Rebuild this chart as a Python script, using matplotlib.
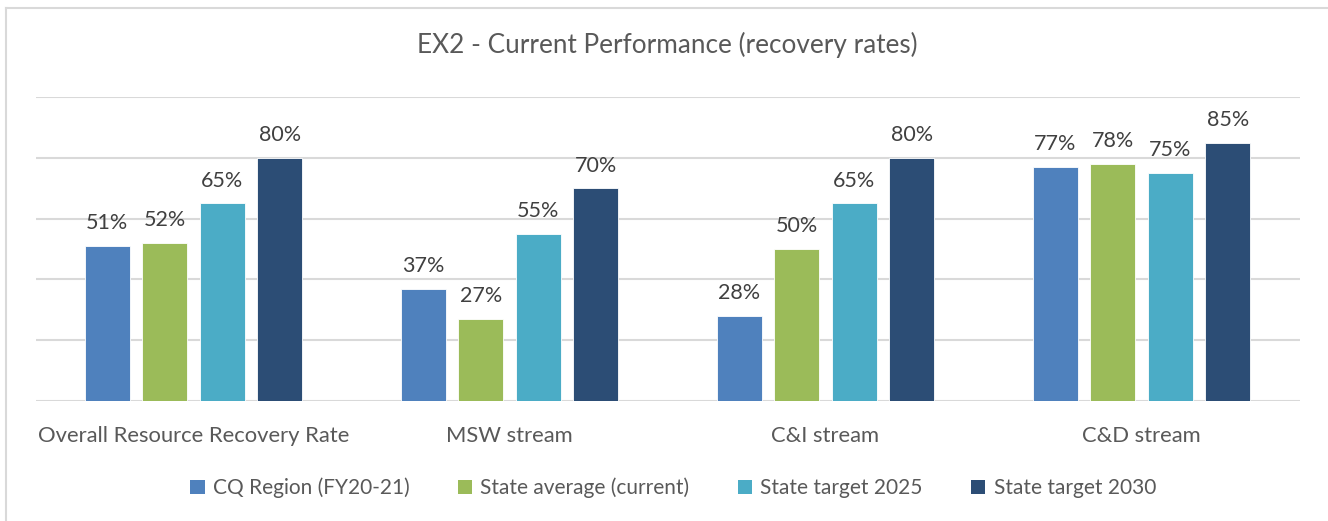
import matplotlib.pyplot as plt
import numpy as np
from matplotlib.lines import Line2D
from matplotlib.patches import Patch

categories = ["Overall Resource Recovery Rate", "MSW stream", "C&I stream", "C&D stream"]
series_names = ["CQ Region (FY20-21)", "State average (current)", "State target 2025", "State target 2030"]
cq_region = [51, 37, 28, 77]
state_avg = [52, 27, 50, 78]
target_2025 = [65, 55, 65, 75]
target_2030 = [80, 70, 80, 85]
colors = ["#4F81BD", "#9BBB59", "#4BACC6", "#2C4D75"]

plt.rcParams["font.family"] = ["Lato", "DejaVu Sans"]
text_color = "#595959"

fig = plt.figure(figsize=(13.28, 5.21), dpi=100)
ax = fig.add_axes([35.5 / 1328, 120 / 521, 1264 / 1328, 304 / 521])

x = np.arange(len(categories))
width = 0.143
step = 0.182
all_series = [cq_region, state_avg, target_2025, target_2030]
for i, (vals, col, name) in enumerate(zip(all_series, colors, series_names)):
    pos = x + (i - 1.5) * step
    bars = ax.bar(pos, vals, width, color=col, edgecolor="white", linewidth=0.6, label=name, zorder=3)
    for b, v in zip(bars, vals):
        ax.annotate(f"{v}%", (b.get_x() + b.get_width() / 2, v), xytext=(0, 9),
                    textcoords="offset points", ha="center", va="bottom",
                    fontsize=15.5, color="#404040")

ax.set_xlim(-0.5, len(categories) - 0.5)
ax.set_ylim(0, 100)
ax.set_yticks([0, 20, 40, 60, 80, 100])
ax.set_yticklabels([])
ax.tick_params(axis="y", length=0)
ax.tick_params(axis="x", length=0, pad=18, labelsize=15.8, labelcolor=text_color)
ax.set_xticks(x)
ax.set_xticklabels(categories)
ax.grid(axis="y", color="#D9D9D9", linewidth=1.5, zorder=0)
for s in ax.spines.values():
    s.set_visible(False)

fig.text(667 / 1328, 1 - 45 / 521, "EX2 - Current Performance (recovery rates)",
         ha="center", va="center", fontsize=18.8, color=text_color)

handles = [Patch(facecolor=c, label=n) for c, n in zip(colors, series_names)]
fig.legend(handles=handles, loc="center", bbox_to_anchor=(673 / 1328, 1 - 488 / 521),
           ncol=4, frameon=False, fontsize=15, labelcolor=text_color,
           handlelength=0.7, handleheight=0.7, handletextpad=0.4, columnspacing=2.3)

fig.add_artist(Line2D([5.5 / 1328, 5.5 / 1328], [0, 1 - 7.5 / 521], transform=fig.transFigure,
                      color="#D9D9D9", linewidth=1.5))
fig.add_artist(Line2D([5.5 / 1328, 1], [1 - 7.5 / 521, 1 - 7.5 / 521], transform=fig.transFigure,
                      color="#D9D9D9", linewidth=1.5))

fig.savefig("out.png", dpi=100)
